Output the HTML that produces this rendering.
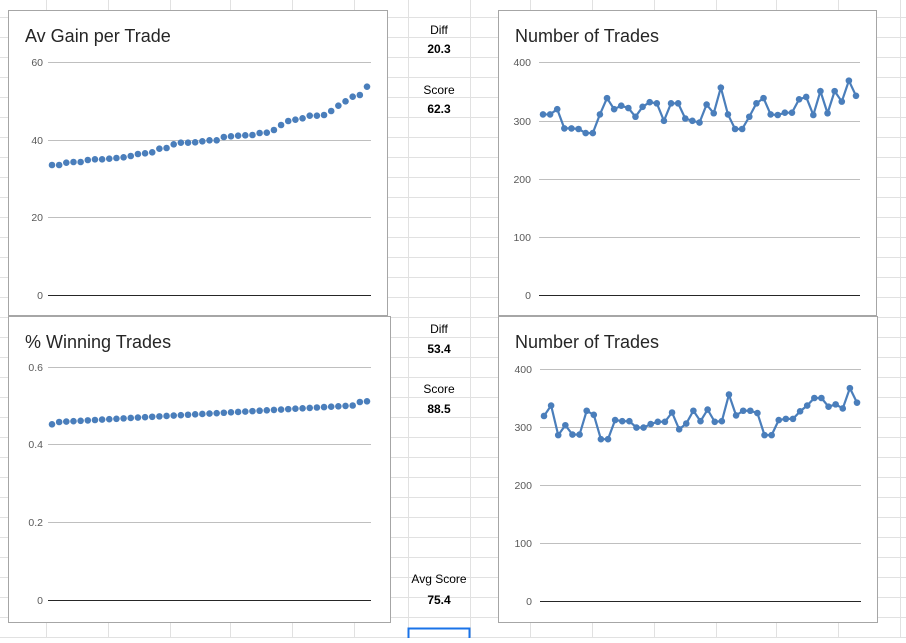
<!DOCTYPE html>
<html><head><meta charset="utf-8"><style>
body{margin:0;width:906px;height:638px;overflow:hidden;background:#fff;font-family:"Liberation Sans",sans-serif}
</style></head><body>
<svg id="s" width="906" height="638" xmlns="http://www.w3.org/2000/svg" font-family="Liberation Sans, sans-serif">
<g id="grid" stroke="#e1e1e1" stroke-width="1"></g>
<rect x="408.5" y="628.5" width="61" height="12" fill="none" stroke="#1a73e8" stroke-width="2"/>
<g id="charts"></g>
<g font-size="12" text-anchor="middle" fill="#000">
<text x="439" y="34">Diff</text><text x="439" y="53" font-weight="bold">20.3</text>
<text x="439" y="94">Score</text><text x="439" y="113" font-weight="bold">62.3</text>
<text x="439" y="333">Diff</text><text x="439" y="353" font-weight="bold">53.4</text>
<text x="439" y="393">Score</text><text x="439" y="413" font-weight="bold">88.5</text>
<text x="439" y="583">Avg Score</text><text x="439" y="604" font-weight="bold">75.4</text>
</g>
</svg>
<script>
var NS="http://www.w3.org/2000/svg",s=document.getElementById('s'),g=document.getElementById('grid'),c=document.getElementById('charts');
function el(p,t,a,txt){var e=document.createElementNS(NS,t);for(var k in a)e.setAttribute(k,a[k]);if(txt!==undefined)e.textContent=txt;p.appendChild(e);return e;}
[46,108,170,230,292,354,408,470,530,592,654,716,776,838,900].forEach(function(x){el(g,'line',{x1:x+.5,y1:0,x2:x+.5,y2:638});});
for(var y=17;y<638;y+=20)el(g,'line',{x1:0,y1:y+.5,x2:906,y2:y+.5});
function chart(bx,by,bw,bh,title,tx,ty,ticks,x0,x1,lx,vals,line){
 el(c,'rect',{x:bx+.5,y:by+.5,width:bw,height:bh,fill:'#fff',stroke:'#a6a6a6'});
 el(c,'text',{x:bx+17,y:by+32,'font-size':18,fill:'#262626'},title);
 ticks.forEach(function(t,i){el(c,'line',{x1:x0,x2:x1,y1:t[1]+.5,y2:t[1]+.5,stroke:i==ticks.length-1?'#262626':'#bfbfbf'});
  el(c,'text',{x:lx,y:t[1]+4,'font-size':10.5,fill:'#595959','text-anchor':'end'},t[0]);});
 var n=vals.length,xs=x0+4,xe=x1-4,pts=[];
 vals.forEach(function(v,i){pts.push([xs+(xe-xs)*i/(n-1),v]);});
 if(line)el(c,'polyline',{points:pts.map(function(p){return p.join(',')}).join(' '),fill:'none',stroke:'#4a7ebb','stroke-width':2.2});
 pts.forEach(function(p){el(c,'circle',{cx:p[0],cy:p[1],r:3.3,fill:'#4a7ebb'});});
}
// chart1
var z1=[495,495,488,486,486,480,478,478,476,474,472,468,462,460,457,446,444,433,428,428,427,424,421,421,411,409,407,406,405,399,398,390,375,363,359,355,347,347,345,333,317,304,290,285,260];
chart(8,10,379,305,'Av Gain per Trade',0,0,[['60',62],['40',140],['20',217],['0',295]],48,371,43,z1.map(function(z){return z/3;}),false);
// chart3
var v3=[];for(var i=0;i<45;i++){v3.push(i==0?424.3:(i<43?422-(i-1)*16.5/41:(i==43?402:401.3)));}
chart(8,316,382,306,'% Winning Trades',0,0,[['0.6',367],['0.4',444],['0.2',522],['0',600]],48,371,43,v3,false);
// chart2
var v2=[310,310,319,286,286,285,278,278,310,338,319,325,321,306,323,331,329,299,329,329,303,299,296,327,312,356,310,285,285,306,329,338,310,309,313,313,336,340,309,350,312,350,332,368,342];
chart(498,10,378,305,'Number of Trades',0,0,[['400',62],['300',121],['200',179],['100',237],['0',295]],539,860,531,v2.map(function(v){return 295-v*0.5825;}),true);
// chart4
var v4=[319,337,286,303,287,287,328,321,279,279,312,310,310,299,299,305,309,309,325,296,306,328,310,330,309,310,356,320,328,328,324,286,286,312,314,314,327,337,350,350,335,339,332,367,342];
chart(498,316,379,306,'Number of Trades',0,0,[['400',369],['300',427],['200',485],['100',543],['0',601]],540,861,532,v4.map(function(v){return 601-v*0.58;}),true);
</script>
</body></html>
